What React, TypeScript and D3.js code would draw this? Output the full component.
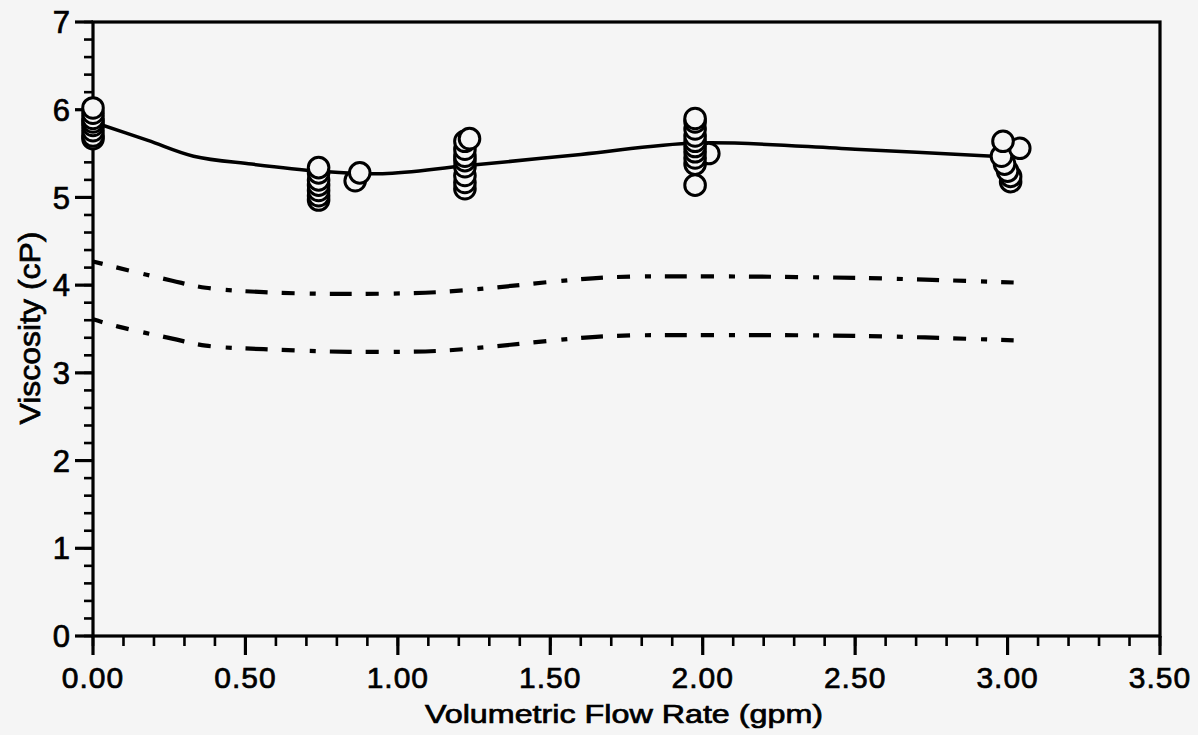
import React from "react";
import * as d3 from "d3";

const WIDTH = 1198;
const HEIGHT = 735;

// Axis ticks
const flowTicks = [0, 0.5, 1, 1.5, 2, 2.5, 3, 3.5];
const flowTickLabels = ["0.00", "0.50", "1.00", "1.50", "2.00", "2.50", "3.00", "3.50"];
const viscTicks = [0, 1, 2, 3, 4, 5, 6, 7];
const viscTickLabels = ["0", "1", "2", "3", "4", "5", "6", "7"];

// Measured viscosity at each flow rate [gpm, cP]
const measured: [number, number][] = [
  [0.0, 5.67], [0.0, 5.7], [0.0, 5.76], [0.0, 5.82], [0.0, 5.86], [0.0, 5.9], [0.0, 5.96], [0.0, 6.02],
  [0.74, 4.97], [0.74, 5.02], [0.74, 5.08], [0.74, 5.14], [0.74, 5.2], [0.74, 5.28], [0.74, 5.34],
  [0.86, 5.19], [0.875, 5.28],
  [1.22, 5.1], [1.22, 5.17], [1.22, 5.25], [1.22, 5.35], [1.22, 5.42], [1.22, 5.47], [1.22, 5.55], [1.22, 5.64], [1.235, 5.67],
  [1.975, 5.14], [2.02, 5.5], [1.975, 5.38], [1.975, 5.45], [1.975, 5.52], [1.975, 5.58], [1.975, 5.64], [1.975, 5.7], [1.975, 5.78], [1.975, 5.86], [1.975, 5.9],
  [3.01, 5.18], [3.01, 5.24], [3.0, 5.3], [2.99, 5.38], [2.98, 5.47], [3.04, 5.56], [2.985, 5.64],
];

// Fitted mean viscosity curve
const fitCurve: [number, number][] = [
  [0.0, 5.86], [0.18, 5.65], [0.33, 5.47], [0.52, 5.38], [0.74, 5.3], [0.95, 5.27], [1.22, 5.36],
  [1.6, 5.49], [1.98, 5.62], [2.5, 5.55], [3.0, 5.46],
];

// Predicted bounds (dash-dot)
const upperBound: [number, number][] = [
  [0.0, 4.27], [0.08, 4.2], [0.26, 4.05], [0.37, 3.97], [0.56, 3.92], [0.84, 3.9], [1.13, 3.92],
  [1.31, 3.97], [1.51, 4.04], [1.7, 4.09], [1.97, 4.1], [2.54, 4.08], [3.02, 4.03],
];
const lowerBound: [number, number][] = [
  [0.0, 3.61], [0.08, 3.53], [0.26, 3.39], [0.37, 3.31], [0.56, 3.27], [0.84, 3.24], [1.13, 3.25],
  [1.31, 3.3], [1.51, 3.37], [1.7, 3.42], [1.97, 3.43], [2.54, 3.42], [3.02, 3.37],
];

const FONT = "'Liberation Sans', Arial, Helvetica, sans-serif";
const INK = "#000";
const PAPER = "#f5f5f5";

export default function App() {
  const left = 93, right = 1160, top = 22, bottom = 636;
  const x = d3.scaleLinear().domain([0, 3.5]).range([left, right]);
  const y = d3.scaleLinear().domain([0, 7]).range([bottom, top]);

  const line = d3
    .line<[number, number]>()
    .x((d) => x(d[0]))
    .y((d) => y(d[1]))
    .curve(d3.curveCatmullRom.alpha(0.5));

  const xMinor = x.ticks(35);
  const yMinor = y.ticks(35);

  const textStyle = {
    fontFamily: FONT,
    fill: INK,
    stroke: INK,
    strokeWidth: 0.7,
  } as const;

  return (
    <div style={{ position: "fixed", left: 0, top: 0 }}>
      <svg width={WIDTH} height={HEIGHT} style={{ display: "block", background: PAPER }}>
        <rect x={0} y={0} width={WIDTH} height={HEIGHT} fill={PAPER} />

        {/* bounds */}
        <path d={line(upperBound) || ""} fill="none" stroke={INK} strokeWidth={4.2}
          strokeDasharray="22 14 13 15 6 14" strokeDashoffset={12} />
        <path d={line(lowerBound) || ""} fill="none" stroke={INK} strokeWidth={4.2}
          strokeDasharray="22 14 13 15 6 14" strokeDashoffset={12} />

        {/* fitted curve */}
        <path d={line(fitCurve) || ""} fill="none" stroke={INK} strokeWidth={3.5} />

        {/* frame */}
        <rect x={left} y={top} width={right - left} height={bottom - top} fill="none" stroke={INK} strokeWidth={3.2} />

        {/* x ticks */}
        {xMinor.map((t, i) => (
          <line key={"xm" + i} x1={x(t)} x2={x(t)} y1={bottom} y2={bottom + 10} stroke={INK} strokeWidth={2.6} />
        ))}
        {flowTicks.map((t, i) => (
          <g key={"xt" + i}>
            <line x1={x(t)} x2={x(t)} y1={bottom} y2={bottom + 19} stroke={INK} strokeWidth={3.2} />
            <text x={x(t)} y={688} textAnchor="middle" fontSize={30} letterSpacing={1} style={textStyle}>
              {flowTickLabels[i]}
            </text>
          </g>
        ))}

        {/* y ticks */}
        {yMinor.map((t, i) => (
          <line key={"ym" + i} x1={left - 9} x2={left} y1={y(t)} y2={y(t)} stroke={INK} strokeWidth={2.6} />
        ))}
        {viscTicks.map((t, i) => (
          <g key={"yt" + i}>
            <line x1={left - 18} x2={left} y1={y(t)} y2={y(t)} stroke={INK} strokeWidth={3.2} />
            <text x={70} y={y(t)} dy="0.36em" textAnchor="end" fontSize={31} style={textStyle}>
              {viscTickLabels[i]}
            </text>
          </g>
        ))}

        {/* measurements */}
        {measured.map((d, i) => (
          <circle key={"m" + i} cx={x(d[0])} cy={y(d[1])} r={10.3} fill={PAPER} stroke={INK} strokeWidth={3} />
        ))}

        {/* axis titles */}
        <text x={624} y={723} textAnchor="middle" fontSize={26} style={textStyle}
          textLength={398} lengthAdjust="spacingAndGlyphs">
          Volumetric Flow Rate (gpm)
        </text>
        <text transform="translate(40,328) rotate(-90)" textAnchor="middle" fontSize={30} style={textStyle}
          textLength={193} lengthAdjust="spacingAndGlyphs">
          Viscosity (cP)
        </text>
      </svg>
    </div>
  );
}
